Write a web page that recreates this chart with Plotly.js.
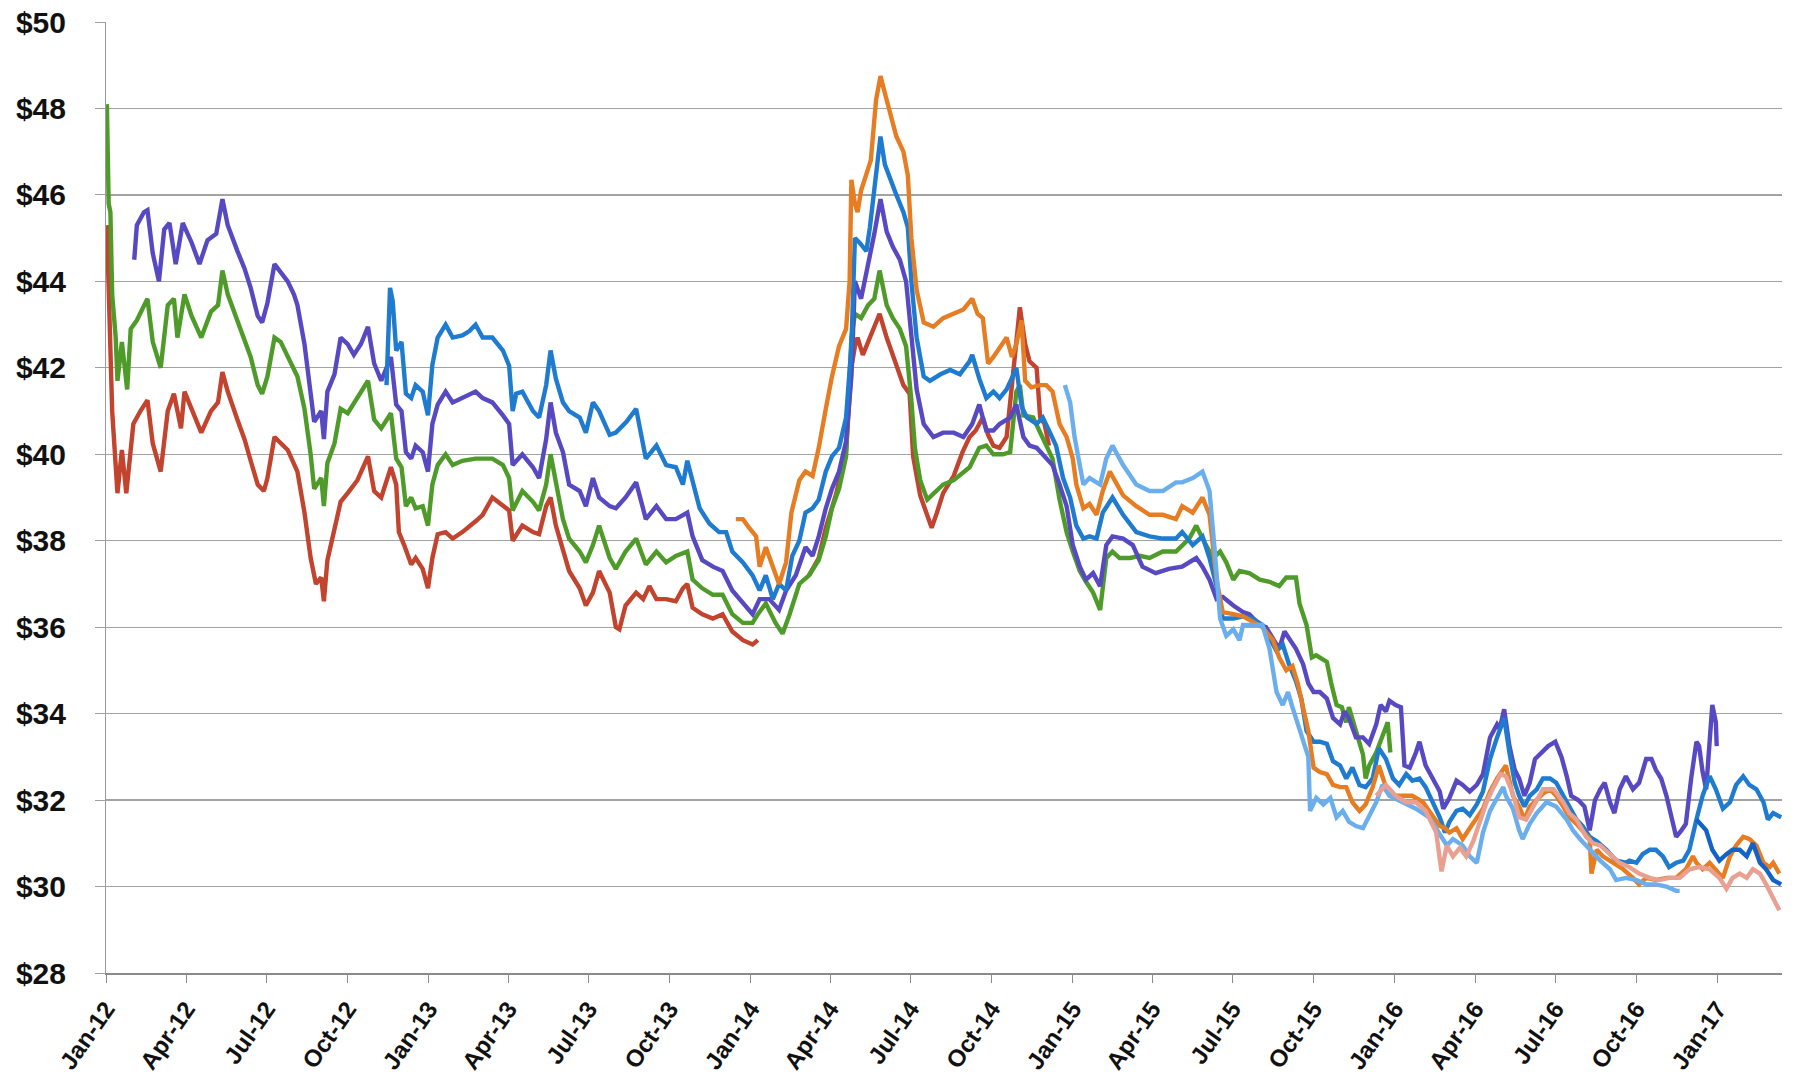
<!DOCTYPE html>
<html><head><meta charset="utf-8">
<script src="https://cdn.plot.ly/plotly-3.0.1.min.js"></script>
<style>html,body{margin:0;padding:0;background:#fff;}#chart{width:1796px;height:1075px;}</style>
</head><body><div id="chart"></div>
<script>
// ---------- tick labels ----------
const yTickValues = [28,30,32,34,36,38,40,42,44,46,48,50];
const yTickLabels = ["$28","$30","$32","$34","$36","$38","$40","$42","$44","$46","$48","$50"];
const xTickDates = ["2012-01-01","2012-04-01","2012-07-01","2012-10-01","2013-01-01","2013-04-01","2013-07-01","2013-10-01",
  "2014-01-01","2014-04-01","2014-07-01","2014-10-01","2015-01-01","2015-04-01","2015-07-01","2015-10-01",
  "2016-01-01","2016-04-01","2016-07-01","2016-10-01","2017-01-01"];
const xTickLabels = ["Jan-12","Apr-12","Jul-12","Oct-12","Jan-13","Apr-13","Jul-13","Oct-13",
  "Jan-14","Apr-14","Jul-14","Oct-14","Jan-15","Apr-15","Jul-15","Oct-15",
  "Jan-16","Apr-16","Jul-16","Oct-16","Jan-17"];

// ---------- red series, first part ----------
const red1Dates = [
"2012-01-02","2012-01-04","2012-01-06","2012-01-08","2012-01-14","2012-01-19","2012-01-24","2012-02-01",
"2012-02-09","2012-02-17","2012-02-23","2012-03-03","2012-03-11","2012-03-18","2012-03-26","2012-03-30",
"2012-04-07","2012-04-18","2012-04-29","2012-05-07","2012-05-12","2012-05-18","2012-05-29","2012-06-06",
"2012-06-13","2012-06-21","2012-06-28","2012-07-02","2012-07-10","2012-07-17","2012-07-25","2012-08-05",
"2012-08-13","2012-08-20","2012-08-26","2012-09-01","2012-09-04","2012-09-08","2012-09-16","2012-09-23",
"2012-10-01","2012-10-12","2012-10-24","2012-10-31","2012-11-08","2012-11-19","2012-11-25","2012-11-28",
"2012-12-04","2012-12-12","2012-12-17","2012-12-25","2012-12-31","2013-01-05","2013-01-11","2013-01-20",
"2013-01-28","2013-02-08","2013-02-23","2013-03-03","2013-03-14","2013-03-26","2013-04-02","2013-04-06",
"2013-04-17","2013-04-29","2013-05-06","2013-05-14","2013-05-19","2013-05-25","2013-06-02","2013-06-09",
"2013-06-21","2013-06-28","2013-07-06","2013-07-13","2013-07-25","2013-08-01","2013-08-05","2013-08-12",
"2013-08-24","2013-09-01","2013-09-08","2013-09-16","2013-09-27","2013-10-08","2013-10-16","2013-10-21",
"2013-10-27","2013-11-07","2013-11-19","2013-11-30","2013-12-11","2013-12-23","2014-01-03","2014-01-09"];
const red1Values = [
45.3,43.85,42.9,41.0,39.1,40.1,39.1,40.7,
41.0,41.25,40.25,39.6,41.0,41.4,40.6,41.45,
41.05,40.5,41.0,41.2,41.9,41.45,40.8,40.35,
39.85,39.3,39.15,39.45,40.4,40.25,40.1,39.6,
38.65,37.6,37.0,37.15,36.6,37.55,38.3,38.9,
39.1,39.4,39.95,39.15,39.0,39.7,39.3,38.2,
37.9,37.45,37.6,37.35,36.9,37.6,38.15,38.2,
38.05,38.2,38.45,38.6,39.0,38.8,38.7,38.0,
38.35,38.2,38.15,38.8,39.0,38.35,37.75,37.3,
36.9,36.5,36.8,37.3,36.8,36.0,35.95,36.5,
36.8,36.65,36.95,36.65,36.65,36.6,36.9,37.0,
36.45,36.3,36.2,36.3,35.9,35.7,35.6,35.7];

// ---------- red series, second part ----------
const red2Dates = [
"2014-03-08","2014-03-19","2014-03-27","2014-04-08","2014-04-19","2014-04-25",
"2014-04-29","2014-05-02","2014-05-08","2014-05-16","2014-05-27","2014-06-04","2014-06-11","2014-06-19",
"2014-06-23","2014-06-30","2014-07-04","2014-07-12","2014-07-20","2014-07-25","2014-07-31","2014-08-07",
"2014-08-19","2014-08-29","2014-09-06","2014-09-13","2014-09-21","2014-09-27","2014-10-03","2014-10-10",
"2014-10-18","2014-10-26","2014-11-02","2014-11-08","2014-11-13","2014-11-21","2014-11-25","2014-11-30",
"2014-12-05"];
const red2Values = [
37.2,37.6,38.3,39.1,40.1,42.0,
42.5,42.7,42.3,42.7,43.25,42.7,42.3,41.85,
41.6,41.4,39.95,39.05,38.6,38.3,38.65,39.1,
39.5,40.05,40.4,40.55,40.85,40.45,40.2,40.15,
40.4,41.9,43.4,42.55,42.15,42.0,40.85,40.7,
40.2];

// ---------- green series ----------
const greenDates = [
"2012-01-02","2012-01-04","2012-01-06","2012-01-08","2012-01-12","2012-01-14","2012-01-19","2012-01-25",
"2012-01-29","2012-02-05","2012-02-17","2012-02-23","2012-03-03","2012-03-11","2012-03-18","2012-03-22",
"2012-03-30","2012-04-07","2012-04-18","2012-04-29","2012-05-07","2012-05-12","2012-05-18","2012-05-29",
"2012-06-06","2012-06-13","2012-06-21","2012-06-26","2012-07-02","2012-07-10","2012-07-17","2012-07-25",
"2012-08-05","2012-08-13","2012-08-20","2012-08-24","2012-09-01","2012-09-04","2012-09-08","2012-09-16",
"2012-09-23","2012-10-01","2012-10-12","2012-10-24","2012-10-31","2012-11-08","2012-11-19","2012-11-25",
"2012-12-01","2012-12-06","2012-12-12","2012-12-17","2012-12-25","2012-12-31","2013-01-05","2013-01-11",
"2013-01-20","2013-01-28","2013-02-08","2013-02-23","2013-03-14","2013-03-26","2013-04-02","2013-04-06",
"2013-04-17","2013-04-29","2013-05-06","2013-05-14","2013-05-19","2013-05-25","2013-06-02","2013-06-09",
"2013-06-21","2013-06-28","2013-07-06","2013-07-13","2013-07-25","2013-08-01","2013-08-12","2013-08-24",
"2013-09-01","2013-09-04","2013-09-16","2013-09-27","2013-10-08","2013-10-21","2013-10-27","2013-11-07",
"2013-11-19","2013-11-30","2013-12-11","2013-12-23","2014-01-03","2014-01-09","2014-01-18","2014-01-29",
"2014-02-06","2014-02-14","2014-02-25","2014-03-08","2014-03-19","2014-03-27","2014-04-03","2014-04-11",
"2014-04-19","2014-04-25","2014-04-29","2014-05-06","2014-05-14","2014-05-21","2014-05-27","2014-06-04",
"2014-06-11","2014-06-19","2014-06-26","2014-07-02","2014-07-06","2014-07-12","2014-07-20","2014-07-27",
"2014-08-07","2014-08-19","2014-08-30","2014-09-06","2014-09-17","2014-09-25","2014-10-03","2014-10-14",
"2014-10-22","2014-10-29","2014-11-02","2014-11-06","2014-11-17","2014-11-25","2014-12-02","2014-12-09",
"2014-12-17","2014-12-25","2015-01-01","2015-01-09","2015-01-16","2015-01-24","2015-02-01","2015-02-08",
"2015-02-15","2015-02-23","2015-03-07","2015-03-18","2015-03-29","2015-04-13","2015-04-28","2015-05-13",
"2015-05-21","2015-05-28","2015-06-09","2015-06-17","2015-06-24","2015-07-02","2015-07-09","2015-07-20",
"2015-08-01","2015-08-12","2015-08-23","2015-08-31","2015-09-11","2015-09-15","2015-09-23","2015-09-29",
"2015-10-04","2015-10-16","2015-10-21","2015-10-27","2015-11-02","2015-11-07","2015-11-10","2015-11-18",
"2015-11-26","2015-11-29","2015-12-03","2015-12-11","2015-12-18","2015-12-24","2015-12-27"];
const greenValues = [
48.1,45.8,45.6,43.7,42.7,41.7,42.6,41.5,
42.9,43.1,43.6,42.6,42.0,43.45,43.6,42.7,
43.7,43.2,42.7,43.3,43.45,44.25,43.7,43.1,
42.6,42.25,41.6,41.4,41.8,42.7,42.6,42.25,
41.8,41.05,40.0,39.2,39.45,38.8,39.8,40.25,
41.05,40.95,41.3,41.7,40.8,40.6,40.95,39.9,
39.7,38.8,39.0,38.75,38.8,38.35,39.3,39.75,
40.0,39.75,39.85,39.9,39.9,39.75,39.45,38.7,
39.15,38.9,38.7,39.3,40.0,39.3,38.5,38.05,
37.75,37.5,37.9,38.35,37.6,37.35,37.75,38.05,
37.6,37.45,37.75,37.5,37.65,37.75,37.1,36.9,
36.75,36.75,36.3,36.1,36.1,36.3,36.55,36.1,
35.85,36.3,37.0,37.2,37.55,38.1,38.75,39.2,
39.95,42.7,43.25,43.15,43.45,43.6,44.25,43.45,
43.15,42.9,42.5,41.25,40.15,39.4,38.95,39.1,
39.3,39.4,39.6,39.7,40.15,40.2,40.0,40.0,
40.05,41.45,41.6,40.9,40.85,40.5,40.2,39.9,
38.95,38.2,37.75,37.3,37.05,36.8,36.4,37.6,
37.75,37.6,37.6,37.65,37.6,37.75,37.75,38.05,
38.35,38.05,37.6,37.75,37.5,37.1,37.3,37.25,
37.1,37.05,36.95,37.15,37.15,36.55,36.05,35.3,
35.35,35.2,34.7,34.2,34.15,33.8,34.15,33.6,
33.05,32.5,32.8,33.1,33.45,33.8,33.1];

// ---------- purple series ----------
const purpleDates = [
"2012-02-02","2012-02-05","2012-02-13","2012-02-17","2012-02-23","2012-03-01","2012-03-07","2012-03-13",
"2012-03-20","2012-03-28","2012-04-07","2012-04-16","2012-04-25","2012-05-05","2012-05-12","2012-05-18",
"2012-05-29","2012-06-06","2012-06-13","2012-06-21","2012-06-26","2012-07-02","2012-07-10","2012-07-17",
"2012-07-25","2012-08-01","2012-08-05","2012-08-13","2012-08-20","2012-08-24","2012-09-01","2012-09-04",
"2012-09-08","2012-09-16","2012-09-23","2012-10-01","2012-10-08","2012-10-16","2012-10-24","2012-10-31",
"2012-11-08","2012-11-19","2012-11-25","2012-12-01","2012-12-06","2012-12-12","2012-12-17","2012-12-25",
"2012-12-31","2013-01-05","2013-01-11","2013-01-20","2013-01-28","2013-02-08","2013-02-23","2013-03-03",
"2013-03-14","2013-03-26","2013-04-02","2013-04-06","2013-04-17","2013-04-29","2013-05-06","2013-05-14",
"2013-05-19","2013-05-25","2013-06-02","2013-06-09","2013-06-21","2013-06-28","2013-07-06","2013-07-13",
"2013-07-25","2013-08-01","2013-08-12","2013-08-24","2013-09-01","2013-09-04","2013-09-16","2013-09-27",
"2013-10-08","2013-10-21","2013-10-27","2013-11-07","2013-11-19","2013-11-30","2013-12-11","2013-12-23",
"2014-01-03","2014-01-11","2014-01-22","2014-02-02","2014-02-10","2014-02-21","2014-03-04","2014-03-12",
"2014-03-19","2014-03-27","2014-04-03","2014-04-11","2014-04-19","2014-04-25","2014-04-29","2014-05-06",
"2014-05-14","2014-05-21","2014-05-28","2014-06-04","2014-06-11","2014-06-19","2014-06-26","2014-07-02",
"2014-07-08","2014-07-16","2014-07-27","2014-08-07","2014-08-19","2014-08-30","2014-09-09","2014-09-17",
"2014-09-25","2014-10-03","2014-10-10","2014-10-22","2014-10-29","2014-11-06","2014-11-13","2014-11-21",
"2014-12-02","2014-12-09","2014-12-17","2014-12-25","2015-01-01","2015-01-09","2015-01-16","2015-01-24",
"2015-02-01","2015-02-08","2015-02-15","2015-02-27","2015-03-10","2015-03-21","2015-04-05","2015-04-20",
"2015-05-05","2015-05-21","2015-05-28","2015-06-05","2015-06-13","2015-06-20","2015-07-02","2015-07-13",
"2015-07-20","2015-08-01","2015-08-08","2015-08-16","2015-08-23","2015-08-29","2015-09-03","2015-09-11",
"2015-09-19","2015-09-25","2015-10-01","2015-10-08","2015-10-16","2015-10-23","2015-10-31","2015-11-05",
"2015-11-10","2015-11-18","2015-11-26","2015-12-03","2015-12-11","2015-12-16","2015-12-22","2015-12-26",
"2016-01-02","2016-01-08","2016-01-12","2016-01-18","2016-01-25","2016-01-29","2016-02-05","2016-02-13",
"2016-02-21","2016-02-25","2016-03-03","2016-03-11","2016-03-18","2016-03-26","2016-04-03","2016-04-10",
"2016-04-18","2016-04-26","2016-04-29","2016-05-04","2016-05-10","2016-05-16","2016-05-21","2016-05-27",
"2016-06-02","2016-06-08","2016-06-15","2016-06-23","2016-07-01","2016-07-08","2016-07-14","2016-07-19",
"2016-07-27","2016-08-03","2016-08-09","2016-08-15","2016-08-21","2016-08-26","2016-09-01","2016-09-06",
"2016-09-12","2016-09-19","2016-09-27","2016-10-04","2016-10-12","2016-10-18","2016-10-23","2016-10-29",
"2016-11-04","2016-11-09","2016-11-15","2016-11-21","2016-11-26","2016-12-02","2016-12-08","2016-12-11",
"2016-12-15","2016-12-19","2016-12-23","2016-12-26","2016-12-30","2016-12-31"];
const purpleValues = [
44.5,45.3,45.6,45.65,44.65,44.0,45.2,45.35,
44.4,45.35,44.9,44.4,44.95,45.1,45.9,45.3,
44.7,44.3,43.85,43.2,43.05,43.5,44.4,44.2,
44.0,43.7,43.45,42.55,41.45,40.75,41.0,40.35,
41.45,41.85,42.7,42.55,42.3,42.55,42.95,42.1,
41.7,42.25,41.15,41.0,40.05,39.9,40.2,40.05,
39.6,40.7,41.15,41.45,41.2,41.3,41.45,41.3,
41.2,40.9,40.7,39.75,40.0,39.7,39.45,40.35,
41.2,40.5,40.05,39.3,39.15,38.8,39.45,39.0,
38.8,38.75,39.0,39.35,38.7,38.5,38.8,38.5,
38.5,38.65,38.1,37.55,37.4,37.3,36.85,36.55,
36.3,36.65,36.65,36.4,36.85,37.2,37.85,37.65,
38.1,38.75,39.2,39.6,40.3,41.8,44.0,43.6,
44.35,45.1,45.9,45.15,44.8,44.5,44.0,42.7,
41.5,40.7,40.4,40.5,40.5,40.4,40.7,41.15,
40.55,40.55,40.7,40.85,41.15,40.4,40.2,40.15,
39.9,39.75,39.3,38.8,37.9,37.4,37.1,37.25,
36.95,37.9,38.1,38.05,37.9,37.4,37.25,37.35,
37.4,37.6,37.4,37.1,36.65,36.7,36.5,36.35,
36.3,36.05,36.0,35.75,35.5,35.9,35.75,35.5,
35.15,34.7,34.5,34.5,34.35,33.9,33.75,34.05,
33.9,33.45,33.45,33.3,33.75,34.2,34.05,34.3,
34.2,34.15,32.8,32.75,33.1,33.35,32.8,32.5,
32.2,31.8,32.05,32.45,32.35,32.2,32.35,32.6,
33.45,33.75,33.65,34.1,33.25,32.7,32.5,32.1,
32.4,32.95,33.1,33.25,33.35,33.0,32.55,32.1,
32.0,31.85,31.3,32.0,32.25,32.4,31.95,31.7,
32.25,32.55,32.25,32.4,32.95,32.95,32.7,32.5,
32.1,31.7,31.15,31.3,31.45,32.5,33.35,33.25,
32.65,32.25,33.35,34.2,33.8,33.25];

// ---------- blue series ----------
const blueDates = [
"2012-11-14","2012-11-18","2012-11-21","2012-11-25","2012-12-01","2012-12-06","2012-12-12","2012-12-17",
"2012-12-25","2012-12-31","2013-01-05","2013-01-11","2013-01-20","2013-01-28","2013-02-08","2013-02-16",
"2013-02-23","2013-03-03","2013-03-14","2013-03-26","2013-04-02","2013-04-06","2013-04-10","2013-04-17",
"2013-04-29","2013-05-06","2013-05-14","2013-05-19","2013-05-25","2013-06-02","2013-06-09","2013-06-21",
"2013-06-28","2013-07-06","2013-07-13","2013-07-25","2013-08-01","2013-08-13","2013-08-24","2013-09-01",
"2013-09-04","2013-09-16","2013-09-27","2013-10-08","2013-10-16","2013-10-21","2013-10-27","2013-11-04",
"2013-11-15","2013-11-26","2013-12-04","2013-12-11","2013-12-23","2014-01-03","2014-01-11","2014-01-18",
"2014-01-26","2014-02-02","2014-02-10","2014-02-17","2014-02-25","2014-03-04","2014-03-12","2014-03-19",
"2014-03-27","2014-04-03","2014-04-11","2014-04-19","2014-04-25","2014-04-29","2014-05-04","2014-05-12",
"2014-05-16","2014-05-21","2014-05-28","2014-06-02","2014-06-08","2014-06-15","2014-06-23","2014-06-28",
"2014-07-02","2014-07-08","2014-07-16","2014-07-23","2014-08-04","2014-08-15","2014-08-26","2014-09-06",
"2014-09-09","2014-09-17","2014-09-25","2014-10-03","2014-10-10","2014-10-18","2014-10-26","2014-10-29",
"2014-11-04","2014-11-10","2014-11-21","2014-11-28","2014-12-05","2014-12-13","2014-12-21","2014-12-29",
"2015-01-05","2015-01-13","2015-01-20","2015-01-28","2015-02-04","2015-02-15","2015-02-27","2015-03-14",
"2015-03-29","2015-04-13","2015-04-28","2015-05-05","2015-05-17","2015-05-28","2015-06-05","2015-06-13",
"2015-06-20","2015-07-02","2015-07-13","2015-07-24","2015-08-04","2015-08-12","2015-08-20","2015-08-27",
"2015-09-03","2015-09-11","2015-09-17","2015-09-23","2015-10-01","2015-10-08","2015-10-16","2015-10-23",
"2015-10-31","2015-11-07","2015-11-14","2015-11-22","2015-11-29","2015-12-07","2015-12-14","2015-12-22",
"2015-12-30","2016-01-06","2016-01-14","2016-01-21","2016-01-29","2016-02-05","2016-02-13","2016-02-21",
"2016-02-27","2016-03-03","2016-03-11","2016-03-18","2016-03-26","2016-04-03","2016-04-10","2016-04-18",
"2016-04-26","2016-05-04","2016-05-10","2016-05-16","2016-05-21","2016-05-27","2016-06-02","2016-06-10",
"2016-06-17","2016-06-25","2016-07-02","2016-07-10","2016-07-17","2016-07-25","2016-08-01","2016-08-09",
"2016-08-17","2016-08-28","2016-09-08","2016-09-19","2016-09-23","2016-10-01","2016-10-08","2016-10-16",
"2016-10-23","2016-10-31","2016-11-07","2016-11-15","2016-11-23","2016-11-30","2016-12-08","2016-12-15",
"2016-12-23","2016-12-30","2017-01-07","2017-01-15","2017-01-22","2017-01-30","2017-02-06","2017-02-14",
"2017-02-22","2017-02-27","2017-03-05","2017-03-14"];
const blueValues = [
41.6,43.85,43.55,42.4,42.6,41.4,41.3,41.6,
41.45,40.9,42.07,42.7,43.0,42.7,42.75,42.85,
43.0,42.7,42.7,42.4,42.05,41.0,41.4,41.45,
41.0,40.85,41.6,42.4,41.75,41.2,41.0,40.85,
40.5,41.2,41.0,40.45,40.5,40.75,41.05,40.2,
39.9,40.2,39.75,39.7,39.3,39.85,39.4,38.75,
38.4,38.2,38.2,37.75,37.5,37.2,36.85,37.2,
36.65,37.0,36.85,37.65,38.0,38.65,38.75,38.95,
39.6,39.95,40.15,40.85,42.5,45.0,44.9,44.7,
45.25,46.2,47.35,46.7,46.35,46.0,45.6,45.25,
44.0,42.7,41.8,41.7,41.85,41.95,41.85,42.15,
42.3,41.75,41.3,41.45,41.3,41.5,41.85,42.0,
41.1,40.85,40.7,40.85,40.55,40.2,39.45,39.0,
38.35,38.05,38.1,38.05,38.65,39.0,38.6,38.2,
38.1,38.05,38.05,38.2,37.9,38.1,37.6,36.95,
36.2,36.2,36.25,36.2,36.05,35.75,35.45,35.6,
35.15,34.75,34.35,33.6,33.35,33.35,33.3,32.9,
32.8,32.5,32.75,32.35,32.3,32.5,33.2,32.95,
32.5,32.35,32.6,32.45,32.5,32.3,31.95,31.6,
31.25,31.5,31.75,31.8,31.65,31.9,32.2,32.95,
33.45,33.9,33.1,32.4,32.1,31.85,32.1,32.25,
32.5,32.5,32.4,32.1,31.85,31.55,31.4,31.15,
31.05,30.85,30.6,30.55,30.6,30.55,30.75,30.85,
30.85,30.7,30.45,30.55,30.6,30.85,31.55,32.1,
32.55,32.25,31.8,31.95,32.35,32.55,32.35,32.25,
31.95,31.55,31.7,31.6];

// ---------- orange series ----------
const orangeDates = [
"2013-12-15","2013-12-23","2013-12-30","2014-01-07","2014-01-11","2014-01-18","2014-01-26","2014-02-02",
"2014-02-10","2014-02-16","2014-02-25","2014-03-04","2014-03-12","2014-03-19","2014-03-27","2014-04-03",
"2014-04-11","2014-04-19","2014-04-23","2014-04-25","2014-04-29","2014-05-02","2014-05-06","2014-05-12",
"2014-05-17","2014-05-23","2014-05-28","2014-06-02","2014-06-08","2014-06-15","2014-06-23","2014-06-28",
"2014-07-02","2014-07-08","2014-07-16","2014-07-27","2014-08-07","2014-08-19","2014-08-30","2014-09-09",
"2014-09-15","2014-09-21","2014-09-27","2014-10-03","2014-10-10","2014-10-18","2014-10-24","2014-10-29",
"2014-11-04","2014-11-08","2014-11-15","2014-11-25","2014-12-02","2014-12-09","2014-12-17","2014-12-25",
"2015-01-01","2015-01-05","2015-01-13","2015-01-20","2015-01-28","2015-02-04","2015-02-12","2015-02-19",
"2015-02-27","2015-03-14","2015-03-29","2015-04-13","2015-04-28","2015-05-05","2015-05-17","2015-05-28",
"2015-06-05","2015-06-13","2015-06-20","2015-07-02","2015-07-13","2015-08-04","2015-08-16","2015-08-23",
"2015-08-31","2015-09-07","2015-09-13","2015-09-19","2015-09-25","2015-10-01","2015-10-08","2015-10-16",
"2015-10-23","2015-10-31","2015-11-07","2015-11-14","2015-11-22","2015-11-29","2015-12-07","2015-12-14",
"2015-12-22","2015-12-30","2016-01-10","2016-01-21","2016-02-02","2016-02-13","2016-02-21","2016-02-27",
"2016-03-03","2016-03-11","2016-03-18","2016-03-26","2016-04-03","2016-04-10","2016-04-18","2016-04-26",
"2016-05-06","2016-05-14","2016-05-21","2016-05-27","2016-06-02","2016-06-10","2016-06-17","2016-06-25",
"2016-07-02","2016-07-10","2016-07-17","2016-07-25","2016-08-01","2016-08-09","2016-08-11","2016-08-17",
"2016-08-24","2016-09-04","2016-09-16","2016-09-27","2016-10-04","2016-10-12","2016-10-23","2016-11-04",
"2016-11-15","2016-11-26","2016-12-04","2016-12-08","2016-12-15","2016-12-23","2016-12-30","2017-01-07",
"2017-01-15","2017-01-22","2017-01-30","2017-02-06","2017-02-14","2017-02-22","2017-03-01","2017-03-05",
"2017-03-12"];
const orangeValues = [
38.5,38.5,38.3,38.1,37.4,37.85,37.4,37.0,
37.5,38.65,39.4,39.6,39.5,40.15,41.05,41.8,
42.5,42.9,44.0,46.35,45.8,45.6,46.1,46.45,
46.8,48.2,48.75,48.35,47.9,47.35,47.0,46.45,
45.0,43.8,43.05,42.95,43.15,43.25,43.35,43.6,
43.25,43.15,42.1,42.25,42.45,42.7,42.25,42.55,
43.1,41.7,41.55,41.6,41.6,41.45,40.7,40.4,
39.9,39.3,38.75,38.85,38.6,39.15,39.6,39.35,
39.05,38.8,38.6,38.6,38.5,38.8,38.65,39.0,
38.6,37.1,36.35,36.3,36.25,36.0,35.7,35.3,
35.0,35.1,34.7,34.15,33.6,32.75,32.65,32.6,
32.35,32.3,32.3,31.95,31.75,31.9,32.3,32.8,
32.3,32.1,32.1,32.1,31.95,31.65,31.4,31.35,
31.25,31.35,31.1,31.35,31.6,31.8,32.2,32.5,
32.8,32.1,31.85,31.55,31.85,32.0,32.15,32.25,
32.1,31.85,31.6,31.45,31.3,31.1,30.3,30.85,
30.7,30.55,30.4,30.2,30.05,30.2,30.15,30.2,
30.2,30.4,30.7,30.55,30.4,30.55,30.4,30.2,
30.7,30.95,31.15,31.1,30.95,30.55,30.45,30.55,
30.3];

// ---------- light blue series ----------
const lightBlueDates = [
"2014-12-23","2014-12-29","2015-01-03","2015-01-09","2015-01-13","2015-01-20","2015-02-01","2015-02-08",
"2015-02-15","2015-02-19","2015-02-27","2015-03-14","2015-03-29","2015-04-13","2015-04-28","2015-05-05",
"2015-05-17","2015-05-28","2015-06-05","2015-06-11","2015-06-17","2015-06-24","2015-07-02","2015-07-09",
"2015-07-13","2015-07-24","2015-08-04","2015-08-12","2015-08-20","2015-08-27","2015-09-02","2015-09-07",
"2015-09-15","2015-09-25","2015-09-27","2015-10-04","2015-10-12","2015-10-20","2015-10-27","2015-11-03",
"2015-11-10","2015-11-18","2015-11-26","2015-12-03","2015-12-11","2015-12-18","2015-12-26","2016-01-10",
"2016-01-25","2016-02-09","2016-02-21","2016-02-29","2016-03-07","2016-03-18","2016-03-26","2016-04-03",
"2016-04-10","2016-04-18","2016-04-26","2016-05-03","2016-05-06","2016-05-14","2016-05-21","2016-05-25",
"2016-06-02","2016-06-10","2016-06-21","2016-07-02","2016-07-14","2016-07-21","2016-07-29","2016-08-09",
"2016-08-21","2016-09-01","2016-09-08","2016-09-19","2016-10-01","2016-10-12","2016-10-23","2016-11-04",
"2016-11-15","2016-11-19"];
const lightBlueValues = [
41.6,41.2,40.4,39.7,39.3,39.45,39.3,39.9,
40.2,40.05,39.75,39.3,39.15,39.15,39.35,39.35,
39.45,39.6,39.15,37.75,36.2,35.8,35.95,35.7,
36.05,36.05,36.05,35.5,34.5,34.2,34.5,34.15,
33.6,33.0,31.75,32.05,31.9,32.05,31.6,31.75,
31.5,31.4,31.35,31.65,31.95,32.35,32.1,31.95,
31.8,31.6,31.2,30.95,31.1,30.95,30.7,30.55,
31.25,31.75,32.05,32.3,32.1,31.8,31.3,31.1,
31.45,31.7,31.95,31.85,31.55,31.3,31.1,30.85,
30.6,30.4,30.15,30.2,30.15,30.05,30.05,30.0,
29.9,29.9];

// ---------- pink series ----------
const pinkDates = [
"2015-12-11","2015-12-22","2016-01-02","2016-01-14","2016-01-25","2016-02-05","2016-02-17","2016-02-23",
"2016-02-29","2016-03-07","2016-03-15","2016-03-22","2016-03-30","2016-04-06","2016-04-14","2016-04-22",
"2016-04-30","2016-05-06","2016-05-14","2016-05-21","2016-05-29","2016-06-06","2016-06-17","2016-06-29",
"2016-07-10","2016-07-17","2016-07-25","2016-08-05","2016-08-13","2016-08-21","2016-09-01","2016-09-12",
"2016-09-23","2016-10-04","2016-10-16","2016-10-27","2016-11-07","2016-11-19","2016-11-30","2016-12-11",
"2016-12-23","2017-01-03","2017-01-11","2017-01-18","2017-01-26","2017-02-03","2017-02-10","2017-02-18",
"2017-02-25","2017-03-05","2017-03-12"];
const pinkValues = [
32.1,32.35,32.1,31.95,31.95,31.75,31.25,30.35,
30.95,30.7,30.9,30.7,31.05,31.5,31.95,32.3,
32.6,32.55,32.15,31.6,31.55,31.85,32.25,32.25,
31.95,31.7,31.55,31.15,31.0,30.95,30.75,30.55,
30.45,30.3,30.2,30.15,30.2,30.2,30.4,30.45,
30.4,30.2,29.95,30.2,30.3,30.2,30.4,30.3,
30.05,29.75,29.45];

// ---------- dark blue series ----------
const darkBlueDates = [
"2016-12-08","2016-12-19","2016-12-26","2017-01-03","2017-01-11","2017-01-18","2017-01-26","2017-02-03",
"2017-02-10","2017-02-18","2017-02-25","2017-03-05","2017-03-14"];
const darkBlueValues = [
31.55,31.3,30.85,30.6,30.75,30.85,30.85,30.7,
31.0,30.55,30.4,30.15,30.05];

// ---------- chart ----------
const seriesList = [
  {x: red1Dates, y: red1Values, color: '#C2432E'},
  {x: red2Dates, y: red2Values, color: '#C2432E'},
  {x: greenDates, y: greenValues, color: '#4F9B2A'},
  {x: purpleDates, y: purpleValues, color: '#5649C2'},
  {x: blueDates, y: blueValues, color: '#1E7BD0'},
  {x: orangeDates, y: orangeValues, color: '#E67D22'},
  {x: lightBlueDates, y: lightBlueValues, color: '#6BAEEE'},
  {x: pinkDates, y: pinkValues, color: '#E9A090'},
  {x: darkBlueDates, y: darkBlueValues, color: '#1462C8'}
];
const traces = seriesList.map(s => ({
  type: 'scatter', mode: 'lines', x: s.x, y: s.y,
  line: {color: s.color, width: 4.4}, hoverinfo: 'skip'
}));

const fam = 'Liberation Sans, Arial, sans-serif';
const layout = {
  width: 1796, height: 1075,
  margin: {l: 106, r: 14, t: 22, b: 102},
  paper_bgcolor: '#ffffff', plot_bgcolor: '#ffffff',
  showlegend: false,
  font: {family: fam, size: 24, color: '#111', weight: 700},
  xaxis: {
    type: 'date', range: ['2012-01-01', '2017-03-15'],
    tickmode: 'array', tickvals: xTickDates, ticktext: xTickLabels,
    tickangle: -55, ticks: 'outside', ticklen: 8, tickcolor: '#8a8a8a', tickwidth: 1,
    showgrid: false, showline: true, linecolor: '#8a8a8a', linewidth: 1.5, zeroline: false,
    tickfont: {family: fam, size: 24, color: '#111', weight: 700}, ticklabelstandoff: 3, automargin: false
  },
  yaxis: {
    range: [28, 50], tickmode: 'array', tickvals: yTickValues, ticktext: yTickLabels,
    ticks: 'outside', ticklen: 10, tickcolor: '#a0a0a0', tickwidth: 1,
    showgrid: true, gridcolor: '#a3a3a3', gridwidth: 1.3,
    showline: true, linecolor: '#9a9a9a', linewidth: 1, zeroline: false,
    tickfont: {family: fam, size: 30, color: '#111', weight: 700}, ticklabelstandoff: 23, automargin: false
  }
};
Plotly.newPlot('chart', traces, layout, {staticPlot: true, displayModeBar: false});
</script>
</body></html>
